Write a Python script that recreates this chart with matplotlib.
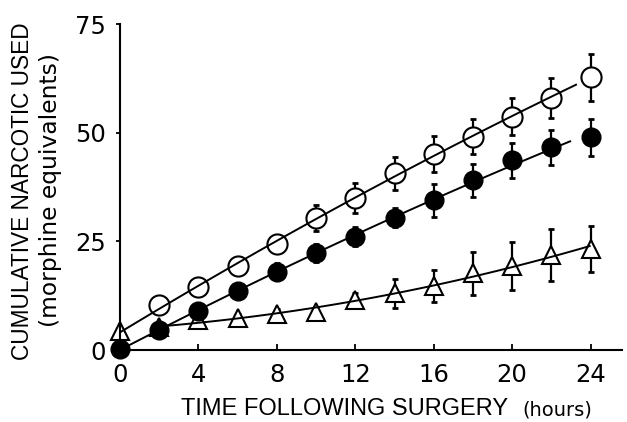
import numpy as np
import matplotlib
matplotlib.use("Agg")
import matplotlib.pyplot as plt

# ---- data ----
hours = [0, 2, 4, 6, 8, 10, 12, 14, 16, 18, 20, 22, 24]

open_x = [2, 4, 6, 8, 10, 12, 14, 16, 18, 20, 22, 24]
open_y = [10.3, 14.4, 19.3, 24.5, 30.4, 35.0, 40.7, 45.1, 49.1, 53.7, 58.0, 62.7]
open_err = [1.5, 1.5, 2.0, 2.0, 3.0, 3.4, 3.8, 4.2, 4.1, 4.2, 4.6, 5.3]

filled_y = [0.3, 4.7, 9.0, 13.5, 18.0, 22.3, 26.1, 30.4, 34.4, 39.0, 43.6, 46.6, 48.9]
filled_err = [0.0, 1.0, 1.5, 1.5, 2.0, 2.0, 2.2, 2.2, 3.8, 3.7, 4.0, 4.0, 4.2]

tri_y = [4.4, 5.3, 6.9, 7.3, 8.2, 8.8, 11.5, 13.0, 14.7, 17.6, 19.3, 21.8, 23.3]
tri_err = [0.0, 1.0, 1.0, 1.0, 1.2, 1.2, 1.5, 3.3, 3.6, 5.0, 5.6, 6.0, 5.3]

# fitted-curve extents (hours)
open_fit_range = (0, 23.3)
filled_fit_range = (0, 23.0)
tri_fit_range = (2, 24)

x_ticks = [0, 4, 8, 12, 16, 20, 24]
y_ticks = [0, 25, 50, 75]

W, H = 627, 422
fig = plt.figure(figsize=(W / 100, H / 100), dpi=100)
ax = fig.add_axes([120 / W, 1 - 350 / H, (622 - 120) / W, (350 - 24) / H])

ebkw = dict(fmt='none', ecolor='black', elinewidth=1.6, capsize=2.4, capthick=2.0, zorder=1)
ax.errorbar(open_x, open_y, yerr=open_err, **ebkw)
ax.errorbar(hours, filled_y, yerr=filled_err, **ebkw)
ax.errorbar(hours, tri_y, yerr=tri_err, **ebkw)


def fit_curve(xs, ys, rng):
    c = np.polyfit(xs, ys, 2)
    xx = np.linspace(rng[0], rng[1], 100)
    return xx, np.polyval(c, xx)


lkw = dict(color='black', lw=1.4, zorder=3, solid_capstyle='butt')
xx, yy = fit_curve(open_x, open_y, open_fit_range)
ax.plot(xx, yy, **lkw)
xx, yy = fit_curve(hours, filled_y, filled_fit_range)
ax.plot(xx, yy, **lkw)
xx, yy = fit_curve(hours[1:], tri_y[1:], tri_fit_range)
ax.plot(xx, yy, **lkw)

ax.plot(hours, tri_y, linestyle='none', marker='^', markersize=12.5,
        markerfacecolor='white', markeredgecolor='black', markeredgewidth=1.5,
        zorder=2, clip_on=False)
ax.plot(open_x, open_y, linestyle='none', marker='o', markersize=14.5,
        markerfacecolor='white', markeredgecolor='black', markeredgewidth=1.5,
        zorder=2, clip_on=False)
ax.plot(hours, filled_y, linestyle='none', marker='o', markersize=13.5,
        markerfacecolor='black', markeredgecolor='black', markeredgewidth=1.0,
        zorder=4, clip_on=False)

ax.set_xlim(0, 25.6)
ax.set_ylim(0, 75)
ax.set_xticks(x_ticks)
ax.set_yticks(y_ticks)
for s in ['top', 'right']:
    ax.spines[s].set_visible(False)
for s in ['left', 'bottom']:
    ax.spines[s].set_linewidth(1.5)

ax.tick_params(axis='x', direction='in', length=4, width=1.3, pad=9,
               labelsize=17.5, labelfontfamily='DejaVu Sans')
ax.tick_params(axis='y', direction='out', length=3, width=1.3, pad=7,
               labelsize=17.5, labelfontfamily='DejaVu Sans')

fig.text(345 / W, 1 - 415 / H, 'TIME FOLLOWING SURGERY', family='Liberation Sans',
         fontsize=17, ha='center', va='baseline')
fig.text(557 / W, 1 - 415 / H, '(hours)', family='DejaVu Sans',
         fontsize=14, ha='center', va='baseline')
fig.text(23 / W, 1 - 191 / H, 'CUMULATIVE NARCOTIC USED', family='Liberation Sans',
         fontsize=16.3, ha='center', va='center', rotation=90)
fig.text(51 / W, 1 - 190 / H, '(morphine equivalents)', family='DejaVu Sans',
         fontsize=16.8, ha='center', va='center', rotation=90)

fig.savefig('out.png', dpi=100)
